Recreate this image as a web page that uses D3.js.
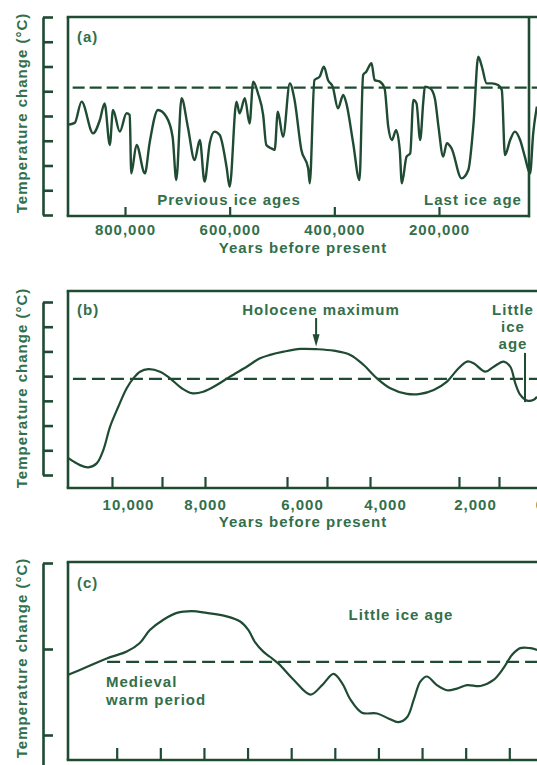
<!DOCTYPE html>
<html>
<head>
<meta charset="utf-8">
<script src="https://cdn.jsdelivr.net/npm/d3@7"></script>
<style>
  body { margin: 0; background: #fff; }
  svg text {
    font-family: "Liberation Sans", Arial, sans-serif;
    font-weight: bold;
    font-size: 15px;
    letter-spacing: 1px;
    fill: #326f4a;
  }
</style>
</head>
<body>
<div id="chart"></div>
<script>
// ── (a) last ~900,000 years: age in thousands of years, temperature in tick units ──
const ageA = [910, 896, 883, 861, 848, 839, 829, 823, 810, 797, 791, 788, 778, 762, 753, 737, 721, 709, 702, 692,
    680, 667, 657, 648, 638, 629, 619, 606, 600, 587, 581, 571, 562, 555, 546, 536, 530, 520, 514, 508,
    498, 485, 476, 463, 450, 447, 438, 428, 420, 412, 403, 393, 383, 377, 364, 352, 345, 339, 329, 323,
    313, 304, 297, 290, 282, 275, 271, 262, 255, 249, 243, 236, 230, 227, 217, 208, 201, 192, 185, 176,
    157, 144, 134, 125, 118, 109, 99, 87, 80, 74, 64, 55, 45, 36, 26, 20, 13];
const tempA = [3.64, 3.72, 4.58, 3.30, 3.84, 4.51, 2.83, 4.24, 3.37, 4.11, 4.04, 1.68, 2.83, 1.68, 2.91, 4.24, 3.97, 3.15, 1.41, 4.72,
    3.57, 2.22, 3.03, 1.35, 2.91, 3.37, 3.23, 1.95, 1.14, 4.58, 4.11, 4.72, 3.70, 5.39, 4.92, 4.04, 2.83, 2.69, 2.63, 4.17,
    3.16, 5.32, 4.65, 2.63, 1.89, 1.28, 5.45, 5.59, 5.99, 5.45, 5.18, 4.31, 4.85, 4.51, 2.90, 1.41, 5.66, 5.79, 6.13, 5.45,
    5.39, 5.12, 3.57, 3.03, 3.43, 2.63, 1.28, 2.36, 2.49, 4.65, 4.51, 3.03, 4.58, 5.18, 5.12, 4.72, 3.57, 2.36, 2.90, 2.69,
    1.48, 1.82, 3.70, 6.40, 5.99, 5.32, 5.32, 5.25, 5.05, 2.42, 3.03, 3.37, 3.03, 2.36, 1.68, 3.30, 4.38];
const refA = 5.15;
const xTicksA = [800, 600, 400, 200];
const yTicksA = [0, 1, 2, 3, 4, 5, 6, 7, 8];

// ── (b) last ~11,000 years ──
const yearB = [11550, 11247, 11031, 10813, 10641, 10467, 10252, 10034, 9862, 9688, 9473, 9169, 8909, 8605, 8346, 8044,
    7759, 7485, 7140, 6866, 6660, 6377, 6035, 5639, 5236, 4836, 4513, 4193, 3882, 3511, 3216, 2918, 2622, 2400,
    2178, 2029, 1683, 1425, 1117, 914, 760, 606, 400, 194, 92];
const tempB = [0.68, 0.40, 0.31, 0.47, 1.01, 1.95, 2.76, 3.51, 3.91, 4.18, 4.28, 4.18, 3.91, 3.51, 3.31, 3.37,
    3.64, 3.98, 4.38, 4.72, 4.86, 4.99, 5.10, 5.09, 5.03, 4.86, 4.45, 3.91, 3.51, 3.28, 3.28, 3.44, 3.78, 4.25,
    4.59, 4.52, 4.18, 4.38, 4.59, 4.38, 3.71, 3.24, 3.01, 3.04, 3.17];
const refB = 3.89;
const xLabelsB = [10000, 8000, 6000, 4000, 2000, 0];
const xTicksB = [10416, 9117, 8000, 6309, 5398, 4361, 2356, 1262];
const yTicksB = [0, 1, 2, 3, 4, 5, 6, 7];

// ── (c) last ~1,000 years (years AD) ──
const yearC = [889, 931, 977, 1023, 1053, 1076, 1107, 1138, 1172, 1206, 1252, 1283, 1302, 1317, 1336, 1351, 1371,
    1406, 1444, 1471, 1497, 1517, 1536, 1562, 1597, 1624, 1646, 1666, 1681, 1696, 1711, 1734, 1757, 1780,
    1803, 1834, 1864, 1887, 1906, 1925, 1948, 1964];
const tempC = [0.70, 0.79, 0.89, 0.97, 1.07, 1.22, 1.34, 1.42, 1.44, 1.42, 1.38, 1.32, 1.22, 1.08, 0.97, 0.91, 0.83,
    0.64, 0.47, 0.58, 0.71, 0.60, 0.41, 0.26, 0.25, 0.19, 0.15, 0.21, 0.41, 0.62, 0.68, 0.58, 0.52, 0.54,
    0.58, 0.57, 0.64, 0.78, 0.93, 1.01, 1.01, 0.99];
const refC = 0.85;
const xTicksC = [1000, 1100, 1200, 1300, 1400, 1500, 1600, 1700, 1800, 1900];
const yTicksC = [-1, 0, 1, 2];

const WIDTH = 537;
const HEIGHT = 765;
const INK = "#1f4b33";
const FRAME_LEFT = 68;
const BRACKET_X = 43;

const svg = d3.select("#chart")
    .append("svg")
    .attr("width", WIDTH)
    .attr("height", HEIGHT);

// ── scales ──
const xA = d3.scaleLinear().domain([800, 200]).range([125, 439]);
const yA = d3.scaleLinear().domain([0, 8]).range([215, 17]);

// the printed axis of (b) is not evenly spaced, so a piecewise scale follows it
const xB = d3.scaleLinear().domain(xLabelsB).range([128, 205, 302, 385, 475, 540]);
const yB = d3.scaleLinear().domain([0, 7]).range([475, 302]);

const xC = d3.scaleLinear().domain([1000, 1900]).range([116.7, 509.3]);
const yC = d3.scaleLinear().domain([0, 2]).range([735, 563]);

// ── helpers ──
function frame(top, bottom, rightBottom, rightLine) {
    const g = svg.append("g")
        .attr("fill", "none")
        .attr("stroke", INK)
        .attr("stroke-width", 2.6);
    g.append("line").attr("x1", FRAME_LEFT - 1.3).attr("x2", WIDTH).attr("y1", top).attr("y2", top);
    g.append("line").attr("x1", FRAME_LEFT).attr("x2", FRAME_LEFT).attr("y1", top).attr("y2", bottom);
    g.append("line").attr("x1", FRAME_LEFT - 1.3).attr("x2", rightBottom).attr("y1", bottom).attr("y2", bottom);
    if (rightLine) {
        g.append("line").attr("x1", rightLine).attr("x2", rightLine).attr("y1", top).attr("y2", bottom + 1.3);
    }
}

function bracket(y, ticks) {
    const g = svg.append("g")
        .attr("transform", `translate(${BRACKET_X},0)`)
        .call(d3.axisRight(y).tickValues(ticks).tickSize(10).tickSizeOuter(0).tickFormat(""));
    g.selectAll("line, path").attr("stroke", INK).attr("stroke-width", 2.6);
}

function xTicks(x, ticks, yPos, len) {
    const g = svg.append("g")
        .attr("transform", `translate(0,${yPos})`)
        .call(d3.axisBottom(x).tickValues(ticks).tickSizeInner(-len).tickSizeOuter(0).tickFormat(""));
    g.select(".domain").remove();
    g.selectAll("line").attr("stroke", INK).attr("stroke-width", 2.2);
}

function xLabels(x, values, yPos, pad, fmt) {
    const g = svg.append("g")
        .attr("transform", `translate(0,${yPos})`)
        .call(d3.axisBottom(x).tickValues(values).tickSize(0).tickPadding(pad).tickFormat(fmt));
    g.select(".domain").remove();
    g.selectAll(".tick line").remove();
}

function curve(x, y, xs, ys, shape, width) {
    const pts = xs.map((d, i) => [d, ys[i]]);
    svg.append("path")
        .datum(pts)
        .attr("fill", "none")
        .attr("stroke", INK)
        .attr("stroke-width", width)
        .attr("stroke-linejoin", "round")
        .attr("d", d3.line().x(d => x(d[0])).y(d => y(d[1])).curve(shape));
}

function refLine(x, y, from, to, value, dash) {
    svg.append("line")
        .attr("x1", x(from)).attr("x2", x(to))
        .attr("y1", y(value)).attr("y2", y(value))
        .attr("stroke", INK)
        .attr("stroke-width", 2.2)
        .attr("stroke-dasharray", dash);
}

function label(text, x, y, anchor) {
    svg.append("text")
        .attr("x", x).attr("y", y)
        .attr("text-anchor", anchor || "start")
        .text(text);
}

function yTitle(cy) {
    svg.append("text")
        .attr("transform", `translate(27,${cy}) rotate(-90)`)
        .attr("text-anchor", "middle")
        .text("Temperature change (°C)");
}

const fmtYears = d3.format(",");

// ── panel (a) ──
frame(17, 216, 530, 529);
bracket(yA, yTicksA);
xTicks(xA, xTicksA, 216, 9);
xLabels(xA, xTicksA, 216, 8, d => fmtYears(d * 1000));
refLine(xA, yA, 900, 0, refA, "12,5");
curve(xA, yA, ageA, tempA, d3.curveMonotoneX, 2.4);
label("(a)", 77, 42);
label("Previous ice ages", 229, 205, "middle");
label("Last ice age", 473, 205, "middle");
label("Years before present", 303, 253, "middle");
yTitle(113);

// ── panel (b) ──
frame(291, 488, WIDTH);
bracket(yB, yTicksB);
xTicks(xB, xTicksB, 488, 11);
xLabels(xB, xLabelsB, 488, 11, fmtYears);
refLine(xB, yB, 11430, -200, refB, "13,6");
curve(xB, yB, yearB, tempB, d3.curveCatmullRom, 2.2);
label("(b)", 77, 315);
label("Holocene maximum", 321, 315, "middle");
label("Little", 513, 315, "middle");
label("ice", 513, 332, "middle");
label("age", 513, 349, "middle");
label("Years before present", 303, 527, "middle");
yTitle(388);

// Holocene maximum arrow
const arrowYear = 5660;
svg.append("line")
    .attr("x1", xB(arrowYear)).attr("x2", xB(arrowYear))
    .attr("y1", yB(6.35)).attr("y2", yB(5.6))
    .attr("stroke", INK).attr("stroke-width", 2);
svg.append("path")
    .attr("d", `M${xB(arrowYear) - 3.5},${yB(5.7)} L${xB(arrowYear) + 3.5},${yB(5.7)} L${xB(arrowYear)},${yB(5.2)} Z`)
    .attr("fill", INK);

// Little ice age marker
svg.append("line")
    .attr("x1", xB(462)).attr("x2", xB(462))
    .attr("y1", yB(4.94)).attr("y2", yB(2.95))
    .attr("stroke", INK).attr("stroke-width", 2);

// ── panel (c) ──
frame(562, 760, WIDTH);
const yCAxis = d3.scaleLinear().domain([-1, 2]).range([821, 563]);
bracket(yCAxis, yTicksC);
xTicks(xC, xTicksC, 760, 12);
refLine(xC, yC, 978, 2000, refC, "13,6");
curve(xC, yC, yearC, tempC, d3.curveCatmullRom, 2.2);
label("(c)", 77, 588);
label("Little ice age", 401, 620, "middle");
label("Medieval", 106, 687);
label("warm period", 106, 705);
yTitle(658);
</script>
</body>
</html>
